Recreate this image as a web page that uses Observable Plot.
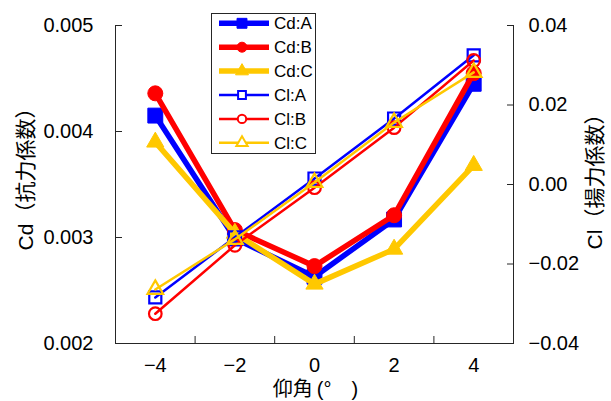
<!DOCTYPE html>
<html><head><meta charset="utf-8">
<script src="https://cdn.jsdelivr.net/npm/d3@7"></script>
<script src="https://cdn.jsdelivr.net/npm/@observablehq/plot@0.6"></script>
<style>
body{margin:0;background:#fff;}
#chart{position:relative;width:611px;height:401px;font-family:"Liberation Sans","Noto Sans CJK JP",sans-serif;}
#legend{position:absolute;left:211px;top:13px;}
</style></head><body><div id="chart"></div>
<script>
// ---- data ----
const angles = [-4, -2, 0, 2, 4];
const cdA = [0.00415, 0.00299, 0.00263, 0.00317, 0.00445];
const cdB = [0.00436, 0.00307, 0.00273, 0.00321, 0.00455];
const cdC = [0.00390, 0.00304, 0.00256, 0.00289, 0.00368];
const clA = [-0.0284, -0.0133, 0.0015, 0.0166, 0.0325];
const clB = [-0.0325, -0.0153, -0.0008, 0.0143, 0.0312];
const clC = [-0.0264, -0.0138, 0.0005, 0.0156, 0.0282];
const xTickLabels = [-4, -2, 0, 2, 4];
const xTickMarks = [-3, -1, 1, 3];
const cdTicks = [0.002, 0.003, 0.004, 0.005];
const clTicks = [-0.04, -0.02, 0, 0.02, 0.04];
const seriesNames = ["Cd:A", "Cd:B", "Cd:C", "Cl:A", "Cl:B", "Cl:C"];
const yLabelLeft = "Cd（抗力係数）";
const yLabelRight = "Cl（揚力係数）";
const xLabel = "仰角\u2009(°\u2003)";

const xDomain = [-5, 5];
const cdDomain = [0.002, 0.005];
const clDomain = [-0.04, 0.04];
const clToCd = v => cdDomain[0] + (v - clDomain[0]) / (clDomain[1] - clDomain[0]) * (cdDomain[1] - cdDomain[0]);

const BLUE = "#0000FF", RED = "#FF0000", GOLD = "#FFC800", AX = "#262626";
const FONT = '"Liberation Sans","Noto Sans CJK JP",sans-serif';
const series = [
  {name: seriesNames[0], vals: cdA, cl: false, color: BLUE, symbol: "square", r: 8.4, lr: 5.6},
  {name: seriesNames[1], vals: cdB, cl: false, color: RED, symbol: "circle", r: 7.5, lr: 5},
  {name: seriesNames[2], vals: cdC, cl: false, color: GOLD, symbol: "triangle", r: 6.4, lr: 4.8},
  {name: seriesNames[3], vals: clA, cl: true, color: BLUE, symbol: "square", r: 6.8, lr: 4.4},
  {name: seriesNames[4], vals: clB, cl: true, color: RED, symbol: "circle", r: 6.3, lr: 4.2},
  {name: seriesNames[5], vals: clC, cl: true, color: GOLD, symbol: "triangle", r: 5.8, lr: 4.2}
];

const marks = [];
for (const s of series) {
  const data = angles.map((a, i) => ({x: a, y: s.cl ? clToCd(s.vals[i]) : s.vals[i]}));
  marks.push(Plot.line(data, {x: "x", y: "y", stroke: s.color, strokeWidth: s.cl ? 2.5 : 5.5, strokeLinejoin: "round"}));
  marks.push(Plot.dot(data, {x: "x", y: "y", symbol: s.symbol, r: s.r,
    fill: s.cl ? "none" : s.color, stroke: s.color, strokeWidth: s.cl ? 2.2 : 1}));
}

const fmtR = d3.format(".2f");
const chart = Plot.plot({
  width: 611, height: 401,
  marginLeft: 115, marginRight: 98, marginTop: 25, marginBottom: 58,
  style: {fontFamily: FONT, background: "white", color: "black"},
  x: {domain: xDomain},
  y: {domain: cdDomain},
  marks: [
    Plot.ruleY([cdDomain[0]], {stroke: AX}),
    Plot.ruleX([xDomain[0]], {stroke: AX}),
    Plot.ruleX([xDomain[1]], {stroke: AX}),
    Plot.axisY({anchor: "left", ticks: cdTicks, tickSize: -7, text: null, stroke: AX, label: null}),
    Plot.axisY({anchor: "right", ticks: clTicks.map(clToCd), tickSize: -7, text: null, stroke: AX, label: null}),
    Plot.axisX({anchor: "bottom", ticks: xTickMarks, tickSize: -7, text: null, stroke: AX, label: null}),
    Plot.axisY({anchor: "left", ticks: cdTicks, tickSize: 0, tickPadding: 22, tickFormat: d3.format(".3f"), fontSize: 20, label: null}),
    Plot.axisX({anchor: "bottom", ticks: xTickLabels, tickSize: 0, tickPadding: 14, fontSize: 20, label: null}),
    Plot.text(clTicks, {x: xDomain[1], y: d => clToCd(d), text: d => fmtR(d), dx: 15, textAnchor: "start", fontSize: 20, fill: "black"}),
    Plot.text([yLabelLeft], {frameAnchor: "left", textAnchor: "middle", lineAnchor: "middle", dx: -89, dy: -10.5, rotate: -90, fontSize: 21, fill: "black", fontFamily: FONT}),
    Plot.text([yLabelRight], {frameAnchor: "right", textAnchor: "middle", lineAnchor: "middle", dx: 82, dy: -8, rotate: -90, fontSize: 21, fill: "black", fontFamily: FONT}),
    Plot.text([xLabel], {frameAnchor: "bottom", textAnchor: "middle", lineAnchor: "middle", dx: 1, dy: 46, fontSize: 20, fill: "black", fontFamily: FONT}),
    ...marks
  ]
});
const root = document.getElementById("chart");
root.appendChild(chart);

// ---- legend ----
const lw = 104, lh = 140, y0 = 10.3, step = 23.9;
const svg = d3.select(root).append("svg").attr("id", "legend").attr("width", lw + 1).attr("height", lh + 1);
svg.append("rect").attr("x", 0.5).attr("y", 0.5).attr("width", lw).attr("height", lh)
  .attr("fill", "white").attr("stroke", AX).attr("stroke-width", 1);
const symMap = {square: d3.symbolSquare, circle: d3.symbolCircle, triangle: d3.symbolTriangle};
series.forEach((s, i) => {
  const y = y0 + i * step;
  const g = svg.append("g");
  g.append("line").attr("x1", 8).attr("x2", 58).attr("y1", y).attr("y2", y)
    .attr("stroke", s.color).attr("stroke-width", s.cl ? 2.5 : 5.5);
  g.append("path").attr("transform", `translate(31,${y})`)
    .attr("d", d3.symbol(symMap[s.symbol], Math.PI * s.lr * s.lr)())
    .attr("fill", s.cl ? "white" : s.color).attr("stroke", s.color).attr("stroke-width", s.cl ? 2 : 1);
  g.append("text").attr("x", 63).attr("y", y).attr("dy", "0.36em")
    .attr("font-size", 17).attr("fill", "black").attr("font-family", FONT).text(s.name);
});
</script>
</body></html>
